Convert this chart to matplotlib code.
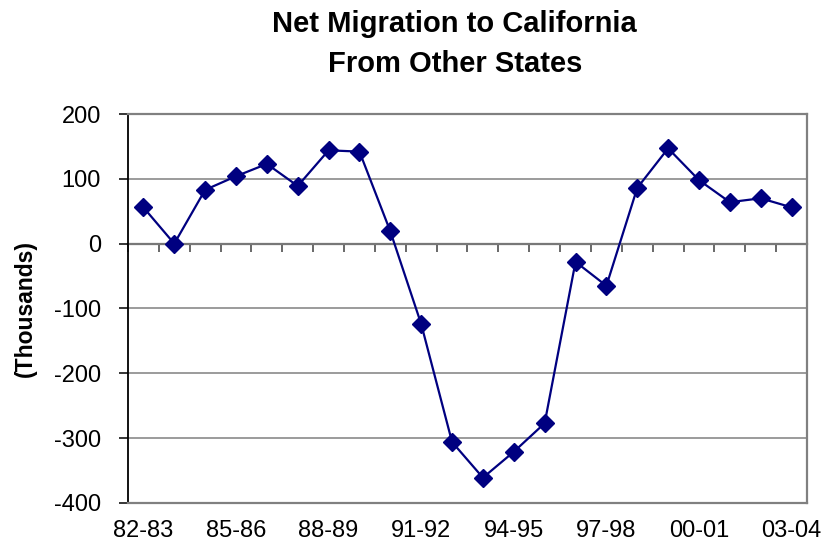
import numpy as np
import matplotlib
matplotlib.use("Agg")
import matplotlib.pyplot as plt

plt.rcParams['font.family'] = ['Liberation Sans', 'DejaVu Sans']
plt.rcParams['axes.unicode_minus'] = False

# net migration, thousands of people, by fiscal year
years = ["82-83", "83-84", "84-85", "85-86", "86-87", "87-88", "88-89",
         "89-90", "90-91", "91-92", "92-93", "93-94", "94-95", "95-96",
         "96-97", "97-98", "98-99", "99-00", "00-01", "01-02", "02-03",
         "03-04"]
net_migration = [56, 0, 83, 104, 123, 89, 144, 142, 19, -124, -306, -361,
                 -321, -277, -28, -65, 86, 147, 98, 64, 70, 56]
y_ticks = [-400, -300, -200, -100, 0, 100, 200]
label_every = 3

fig = plt.figure(figsize=(8.24, 5.5), dpi=100)
ax = fig.add_axes([0.1553, 0.0855, 0.8241, 0.7072])

x = np.arange(len(years))
ax.plot(x, net_migration, color="#000080", lw=1.6, marker="D",
        markersize=9, zorder=3)

ax.set_xlim(-0.5, len(years) - 0.5)
ax.set_ylim(y_ticks[0], y_ticks[-1])
ax.set_yticks(y_ticks)
ax.yaxis.grid(True, color="#808080", lw=1.1)
ax.set_axisbelow(True)

ax.set_xticks(x[::label_every])
ax.set_xticklabels(years[::label_every])
ax.tick_params(axis="x", length=0, pad=12, labelsize=17)
ax.tick_params(axis="y", direction="out", length=6.5, width=1.1,
               pad=13, labelsize=17, color="black")

for side in ["top", "right", "bottom"]:
    ax.spines[side].set_color("#808080")
    ax.spines[side].set_linewidth(1.6)
ax.spines["left"].set_color("black")
ax.spines["left"].set_linewidth(1.3)

# category axis crossing at zero, ticks between categories
zero_axis = ax.secondary_xaxis(0, transform=ax.transData)
zero_axis.set_xticks(np.arange(len(years) + 1) - 0.5)
zero_axis.set_xticklabels([])
zero_axis.tick_params(direction="out", length=6, width=1.1, color="#404040")
zero_axis.spines["bottom"].set_color("#606060")
zero_axis.spines["bottom"].set_linewidth(1.6)

ax.set_ylabel("(Thousands)", fontsize=16.5, fontweight="bold", labelpad=12)

fig.text(0.552, 0.982, "Net Migration to California\nFrom Other States",
         ha="center", va="top", fontsize=21, fontweight="bold",
         linespacing=1.55)

fig.savefig("out.png", dpi=100)
